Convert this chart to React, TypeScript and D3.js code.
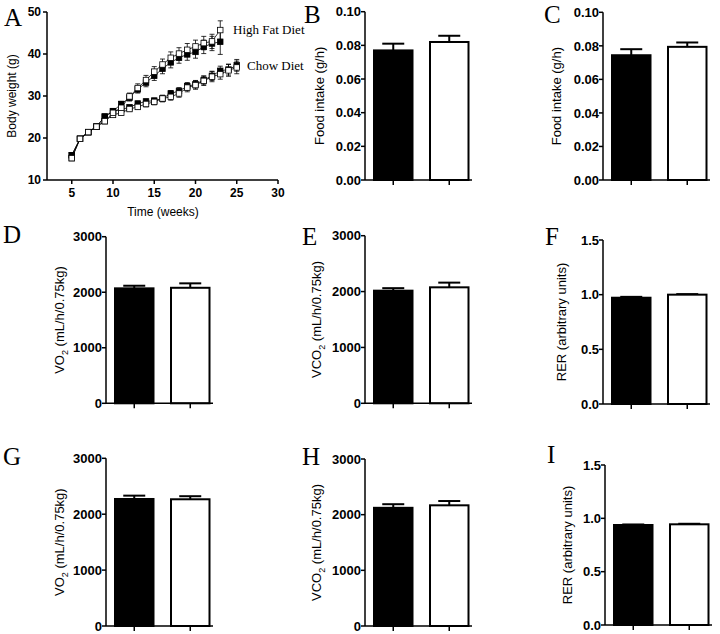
import React from "react";
import * as d3 from "d3";

// ---------- Panel A data ----------
const HF_WEEKS = [5, 6, 7, 8, 9, 10, 11, 12, 13, 14, 15, 16, 17, 18, 19, 20, 21, 22, 23];
const CHOW_WEEKS = [5, 6, 7, 8, 9, 10, 11, 12, 13, 14, 15, 16, 17, 18, 19, 20, 21, 22, 23, 24, 25];
const HF_FILLED = [15.9, 19.8, 21.4, 22.7, 25.1, 26.4, 28.1, 29.6, 31.6, 33.2, 34.8, 36.5, 38.0, 39.1, 39.9, 40.5, 41.7, 42.5, 42.9];
const HF_FILLED_ERR = [0.2, 0.2, 0.2, 0.3, 0.4, 0.5, 0.6, 0.8, 0.9, 1.0, 1.1, 1.2, 1.3, 1.3, 1.4, 1.5, 1.6, 1.7, 3.0];
const HF_OPEN = [15.2, 19.8, 21.4, 22.7, 24.0, 26.0, 27.2, 29.9, 31.9, 33.8, 35.8, 37.5, 39.1, 40.1, 41.0, 41.8, 42.6, 43.0, 45.7];
const HF_OPEN_ERR = [0.2, 0.2, 0.2, 0.3, 0.4, 0.5, 0.6, 0.8, 1.0, 1.1, 1.2, 1.3, 1.4, 1.4, 1.5, 1.5, 1.6, 1.7, 2.2];
const CHOW_FILLED = [15.9, 19.8, 21.4, 22.7, 25.1, 26.4, 26.8, 27.3, 28.2, 28.7, 28.9, 29.4, 30.6, 31.2, 32.3, 32.8, 33.8, 34.8, 36.0, 36.3, 37.3];
const CHOW_FILLED_ERR = [0.2, 0.2, 0.2, 0.3, 0.4, 0.5, 0.5, 0.5, 0.6, 0.6, 0.6, 0.7, 0.7, 0.8, 0.9, 0.9, 1.0, 1.1, 1.1, 1.3, 1.4];
const CHOW_OPEN = [15.2, 19.8, 21.4, 22.7, 24.0, 25.5, 26.0, 26.9, 27.4, 28.1, 28.6, 29.4, 29.8, 30.6, 32.0, 32.6, 33.6, 34.6, 35.2, 36.1, 36.8];
const CHOW_OPEN_ERR = [0.2, 0.2, 0.2, 0.3, 0.4, 0.5, 0.5, 0.6, 0.6, 0.7, 0.7, 0.8, 0.8, 0.9, 1.0, 1.0, 1.1, 1.2, 1.2, 1.4, 1.5];
const A_X_TICKS = [5, 10, 15, 20, 25, 30];
const A_Y_TICKS = [10, 20, 30, 40, 50];

// ---------- Bar panels data ----------
const GROUPS = ["Chow", "High Fat"];
const FOOD_TICKS = [0, 0.02, 0.04, 0.06, 0.08, 0.1];
const VO_TICKS = [0, 1000, 2000, 3000];
const RER_TICKS = [0, 0.5, 1.0, 1.5];

const B_VALUES = [0.077, 0.082];
const B_ERRORS = [0.004, 0.0037];
const C_VALUES = [0.0744, 0.0794];
const C_ERRORS = [0.0036, 0.0026];
const D_VALUES = [2070, 2080];
const D_ERRORS = [47, 80];
const E_VALUES = [2016, 2076];
const E_ERRORS = [45, 84];
const F_VALUES = [0.972, 1.0];
const F_ERRORS = [0.008, 0.005];
const G_VALUES = [2272, 2267];
const G_ERRORS = [60, 55];
const H_VALUES = [2123, 2168];
const H_ERRORS = [65, 77];
const I_VALUES = [0.9375, 0.944];
const I_ERRORS = [0.005, 0.005];

const SANS = "'Liberation Sans', Arial, Helvetica, sans-serif";
const SERIF = "'Liberation Serif', 'Times New Roman', serif";

function PanelA() {
  const x = d3.scaleLinear().domain([2, 30]).range([47, 278]);
  const y = d3.scaleLinear().domain([10, 50]).range([180, 12]);
  const line = d3
    .line<[number, number]>()
    .x((d) => x(d[0]))
    .y((d) => y(d[1]));
  const series = [
    { weeks: CHOW_WEEKS, vals: CHOW_FILLED, errs: CHOW_FILLED_ERR, filled: true },
    { weeks: CHOW_WEEKS, vals: CHOW_OPEN, errs: CHOW_OPEN_ERR, filled: false },
    { weeks: HF_WEEKS, vals: HF_FILLED, errs: HF_FILLED_ERR, filled: true },
    { weeks: HF_WEEKS, vals: HF_OPEN, errs: HF_OPEN_ERR, filled: false },
  ];
  const ms = 5.5;
  return (
    <g>
      <text x={4} y={26} fontFamily={SERIF} fontSize={25}>A</text>
      {series.map((s, i) => (
        <path
          key={"l" + i}
          d={line(s.weeks.map((w, j) => [w, s.vals[j]]) as [number, number][]) || ""}
          fill="none"
          stroke="#000"
          strokeWidth={0.8}
        />
      ))}
      {series.map((s, i) => (
        <g key={"e" + i} stroke="#000" strokeWidth={0.8}>
          {s.weeks.map((w, j) => {
            const cx = x(w);
            const y1 = y(s.vals[j] + s.errs[j]);
            const y2 = y(s.vals[j] - s.errs[j]);
            return (
              <g key={j}>
                <line x1={cx} x2={cx} y1={y1} y2={y2} />
                <line x1={cx - 2.5} x2={cx + 2.5} y1={y1} y2={y1} />
                <line x1={cx - 2.5} x2={cx + 2.5} y1={y2} y2={y2} />
              </g>
            );
          })}
        </g>
      ))}
      {series.map((s, i) => (
        <g key={"m" + i}>
          {s.weeks.map((w, j) => (
            <rect
              key={j}
              x={x(w) - ms / 2}
              y={y(s.vals[j]) - ms / 2}
              width={ms}
              height={ms}
              fill={s.filled ? "#000" : "#fff"}
              stroke="#000"
              strokeWidth={0.8}
            />
          ))}
        </g>
      ))}
      {/* axes */}
      <line x1={47} x2={47} y1={12} y2={180} stroke="#000" strokeWidth={1.5} />
      <line x1={47} x2={278} y1={180} y2={180} stroke="#000" strokeWidth={1.5} />
      {A_Y_TICKS.map((t) => (
        <g key={t}>
          <line x1={43} x2={47} y1={y(t)} y2={y(t)} stroke="#000" strokeWidth={1.5} />
          <text x={41} y={y(t)} dy="0.35em" textAnchor="end" fontFamily={SANS} fontWeight="bold" fontSize={12}>
            {t}
          </text>
        </g>
      ))}
      {A_X_TICKS.map((t) => (
        <g key={t}>
          <line x1={x(t)} x2={x(t)} y1={180} y2={184} stroke="#000" strokeWidth={1.5} />
          <text x={x(t)} y={197} textAnchor="middle" fontFamily={SANS} fontWeight="bold" fontSize={12}>
            {t}
          </text>
        </g>
      ))}
      <text x={163} y={216} textAnchor="middle" fontFamily={SANS} fontSize={12}>Time (weeks)</text>
      <text transform="translate(16,96) rotate(-90)" textAnchor="middle" fontFamily={SANS} fontSize={12}>
        Body weight (g)
      </text>
      <text x={233} y={34} fontFamily={SERIF} fontSize={13}>High Fat Diet</text>
      <text x={247} y={70} fontFamily={SERIF} fontSize={13}>Chow Diet</text>
    </g>
  );
}

type BarProps = {
  letter: string;
  letterX: number;
  letterY: number;
  axisX: number;
  top: number;
  bottom: number;
  max: number;
  ticks: number[];
  fmt: (v: number) => string;
  values: number[];
  errors: number[];
  label: React.ReactNode;
  labelDx: number;
};

function BarPanel(p: BarProps) {
  const y = d3.scaleLinear().domain([0, p.max]).range([p.bottom, p.top]);
  const xb = d3
    .scaleBand<string>()
    .domain(GROUPS)
    .range([p.axisX + 9, p.axisX + 103.5])
    .paddingInner(0.3125)
    .paddingOuter(0);
  const bw = xb.bandwidth();
  const mid = (p.top + p.bottom) / 2;
  return (
    <g>
      <text x={p.letterX} y={p.letterY} fontFamily={SERIF} fontSize={25}>
        {p.letter}
      </text>
      {GROUPS.map((g, i) => {
        const x0 = xb(g) as number;
        const cx = x0 + bw / 2;
        const yt = y(p.values[i]);
        const ye = y(p.values[i] + p.errors[i]);
        return (
          <g key={g}>
            <line x1={cx} x2={cx} y1={yt} y2={ye} stroke="#000" strokeWidth={2} />
            <line x1={cx - 11} x2={cx + 11} y1={ye} y2={ye} stroke="#000" strokeWidth={2} />
            <rect
              x={x0}
              y={yt}
              width={bw}
              height={p.bottom - yt}
              fill={i === 0 ? "#000" : "#fff"}
              stroke="#000"
              strokeWidth={2}
            />
            <line x1={cx} x2={cx} y1={p.bottom} y2={p.bottom + 5} stroke="#000" strokeWidth={1.5} />
          </g>
        );
      })}
      <line x1={p.axisX} x2={p.axisX} y1={p.top} y2={p.bottom} stroke="#000" strokeWidth={1.5} />
      <line x1={p.axisX} x2={p.axisX + 107} y1={p.bottom} y2={p.bottom} stroke="#000" strokeWidth={1.5} />
      {p.ticks.map((t) => (
        <g key={t}>
          <line x1={p.axisX - 4} x2={p.axisX} y1={y(t)} y2={y(t)} stroke="#000" strokeWidth={1.5} />
          <text
            x={p.axisX - 4}
            y={y(t)}
            dy="0.36em"
            textAnchor="end"
            fontFamily={SANS}
            fontWeight="bold"
            fontSize={13}
          >
            {p.fmt(t)}
          </text>
        </g>
      ))}
      <text
        transform={`translate(${p.axisX + p.labelDx},${mid}) rotate(-90)`}
        textAnchor="middle"
        fontFamily={SANS}
        fontSize={13}
      >
        {p.label}
      </text>
    </g>
  );
}

const f2 = d3.format(".2f");
const f1 = d3.format(".1f");
const f0 = d3.format("d");

const voLabel = (c: string) => (
  <>
    <tspan>{c}</tspan>
    <tspan dy={4} fontSize={9}>2</tspan>
    <tspan dy={-4}> (mL/h/0.75kg)</tspan>
  </>
);

export default function App() {
  return (
    <svg
      width={720}
      height={634}
      style={{ position: "absolute", left: 0, top: 0, background: "#fff" }}
    >
      <rect width={720} height={634} fill="#fff" />
      <PanelA />
      <BarPanel letter="B" letterX={304} letterY={23} axisX={365} top={11.7} bottom={180} max={0.1}
        ticks={FOOD_TICKS} fmt={f2} values={B_VALUES} errors={B_ERRORS} label="Food intake (g/h)" labelDx={-41} />
      <BarPanel letter="C" letterX={544} letterY={23} axisX={603} top={12.3} bottom={180} max={0.1}
        ticks={FOOD_TICKS} fmt={f2} values={C_VALUES} errors={C_ERRORS} label="Food intake (g/h)" labelDx={-42} />
      <BarPanel letter="D" letterX={3} letterY={243} axisX={106} top={236.7} bottom={403.3} max={3000}
        ticks={VO_TICKS} fmt={f0} values={D_VALUES} errors={D_ERRORS} label={voLabel("VO")} labelDx={-42} />
      <BarPanel letter="E" letterX={302} letterY={245} axisX={365} top={235.7} bottom={403.3} max={3000}
        ticks={VO_TICKS} fmt={f0} values={E_VALUES} errors={E_ERRORS} label={voLabel("VCO")} labelDx={-44} />
      <BarPanel letter="F" letterX={545} letterY={245} axisX={603} top={240} bottom={404} max={1.5}
        ticks={RER_TICKS} fmt={f1} values={F_VALUES} errors={F_ERRORS} label="RER (arbitrary units)" labelDx={-37} />
      <BarPanel letter="G" letterX={3} letterY={465} axisX={106} top={458.3} bottom={626} max={3000}
        ticks={VO_TICKS} fmt={f0} values={G_VALUES} errors={G_ERRORS} label={voLabel("VO")} labelDx={-42} />
      <BarPanel letter="H" letterX={302} letterY={465} axisX={365} top={459} bottom={626} max={3000}
        ticks={VO_TICKS} fmt={f0} values={H_VALUES} errors={H_ERRORS} label={voLabel("VCO")} labelDx={-44} />
      <BarPanel letter="I" letterX={547} letterY={463} axisX={605} top={465} bottom={625} max={1.5}
        ticks={RER_TICKS} fmt={f1} values={I_VALUES} errors={I_ERRORS} label="RER (arbitrary units)" labelDx={-33} />
    </svg>
  );
}
